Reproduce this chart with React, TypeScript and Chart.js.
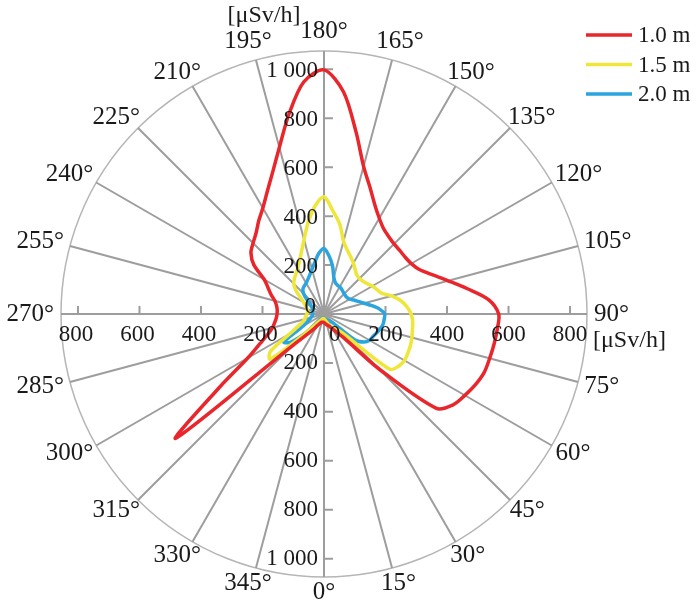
import { useEffect, useRef } from 'react'
import { Chart, registerables } from 'chart.js'

Chart.register(...registerables)

// radar directions, clockwise from the top: 180° up, 90° right, 0° down, 270° left
const directions = Array.from({ length: 72 }, (_, i) => (540 - 5 * i) % 360)

// dose rate [μSv/h] read at 0°, 5°, 10° ... 355°
const dose10m = [
    35, 38, 42, 46, 50, 58, 70, 92, 130, 315, 600, 646,
    665, 683, 697, 701, 706, 711, 714, 675, 595, 525, 470, 430,
    412, 405, 404, 405, 412, 425, 452, 492, 550, 625, 755, 912,
    998, 952, 828, 705, 615, 550, 500, 465, 432, 410, 390, 350,
    282, 252, 230, 208, 197, 192, 192, 196, 205, 218, 245, 290,
    360, 520, 790, 185, 110, 78, 55, 44, 38, 35, 34, 34,
]
const dose15m = [
    20, 22, 25, 30, 38, 48, 62, 72, 82, 118, 352, 372,
    380, 378, 376, 372, 367, 364, 356, 340, 318, 285, 250, 238,
    228, 216, 208, 205, 208, 222, 240, 258, 278, 308, 372, 422,
    479, 440, 378, 315, 270, 238, 215, 200, 188, 175, 150, 118,
    96, 84, 76, 71, 68, 68, 70, 73, 77, 83, 92, 115,
    160, 268, 288, 130, 62, 42, 32, 26, 22, 20, 20, 20,
]
const dose20m = [
    18, 20, 22, 24, 26, 28, 30, 33, 38, 48, 165, 200,
    215, 220, 228, 237, 245, 247, 248, 228, 198, 170, 150, 135,
    122, 116, 115, 117, 120, 125, 128, 130, 136, 155, 200, 238,
    268, 248, 215, 190, 170, 156, 146, 140, 134, 118, 90, 68,
    58, 53, 50, 48, 47, 46, 46, 47, 50, 55, 62, 75,
    98, 200, 180, 118, 62, 38, 28, 22, 20, 18, 18, 18,
]

const seriesLabels = ['1.0 m', '1.5 m', '2.0 m']
const seriesColors = ['#e8262b', '#efe63a', '#2aa5de']

const verticalTicks = [200, 400, 600, 800, 1000]
const horizontalTicks = [200, 400, 600, 800]
const unitLabel = '[μSv/h]'
const rMax = 1075

// the source figure labels its horizontal axis on a stretched scale
const hStretch = 1.257

const serif = "'Liberation Serif', 'Times New Roman', serif"
const gridGrey = '#9d9d9d'

const fmt = (v: number) => String(v).replace(/\B(?=(\d{3})+(?!\d))/g, ' ')
const byDirection = (values: number[]) => directions.map(d => values[d / 5])

const polarDecor = {
    id: 'polarDecor',
    beforeDatasetsDraw(chart: any) {
        const r = chart.scales.r
        const { ctx } = chart
        const cx = r.xCenter, cy = r.yCenter
        ctx.save()
        ctx.strokeStyle = gridGrey
        ctx.lineWidth = 2
        ctx.beginPath()
        verticalTicks.forEach(v => {
            const d = r.getDistanceFromCenterForValue(v)
            ctx.moveTo(cx, cy - d); ctx.lineTo(cx + 9, cy - d)
            ctx.moveTo(cx, cy + d); ctx.lineTo(cx + 9, cy + d)
        })
        horizontalTicks.forEach(v => {
            const d = r.getDistanceFromCenterForValue(v * hStretch)
            ctx.moveTo(cx - d, cy); ctx.lineTo(cx - d, cy - 8)
            ctx.moveTo(cx + d, cy); ctx.lineTo(cx + d, cy - 8)
        })
        ctx.stroke()
        ctx.restore()
    },
    afterDraw(chart: any) {
        const r = chart.scales.r
        const { ctx } = chart
        const cx = r.xCenter, cy = r.yCenter, R = r.drawingArea
        ctx.save()
        ctx.fillStyle = '#1a1a1a'

        // radial tick labels
        ctx.font = `23px ${serif}`
        ctx.textBaseline = 'middle'
        ctx.textAlign = 'right'
        verticalTicks.forEach(v => {
            const d = r.getDistanceFromCenterForValue(v)
            ctx.fillText(fmt(v), cx - 6, cy - d + 2)
            ctx.fillText(fmt(v), cx - 6, cy + d)
        })
        ctx.fillText('0', cx - 8, cy - 7)
        ctx.textAlign = 'left'
        ctx.fillText('0', cx + 5, cy + 21)
        ctx.textAlign = 'center'
        horizontalTicks.forEach(v => {
            const d = r.getDistanceFromCenterForValue(v * hStretch)
            ctx.fillText(fmt(v), cx - d - 2, cy + 21)
            ctx.fillText(fmt(v), cx + d, cy + 21)
        })

        // direction labels
        ctx.font = `25px ${serif}`
        const h = 25 * 0.68
        const off = R + 7
        directions.forEach((deg, i) => {
            if (deg % 15 !== 0) return
            const p = r.getPointPosition(i, off)
            const ux = (p.x - cx) / off, uy = (p.y - cy) / off
            const text = `${deg}°`
            const w = ctx.measureText(text).width
            ctx.fillText(text, p.x + ux * w / 2, p.y + uy * h / 2 + (uy < -0.9 ? -4 : 0))
        })

        // units
        ctx.font = `24px ${serif}`
        ctx.fillText(unitLabel, cx - 60, cy - R - 35)
        ctx.textAlign = 'left'
        ctx.fillText(unitLabel, cx + R + 6, cy + 27)

        // legend
        ctx.font = `23px ${serif}`
        chart.data.datasets.forEach((ds: any, i: number) => {
            const y = 35 + i * 29.5
            ctx.strokeStyle = ds.borderColor
            ctx.lineWidth = 3.5
            ctx.beginPath(); ctx.moveTo(586, y); ctx.lineTo(632, y); ctx.stroke()
            ctx.fillText(ds.label, 638, y + 1)
        })
        ctx.restore()
    },
}

export default function App() {
    const canvasRef = useRef<HTMLCanvasElement>(null)
    const chartRef = useRef<Chart | null>(null)

    useEffect(() => {
        if (!canvasRef.current) return
        if (chartRef.current) { chartRef.current.destroy(); chartRef.current = null }

        chartRef.current = new Chart(canvasRef.current, {
            type: 'radar',
            data: {
                labels: directions.map(d => `${d}°`),
                datasets: [dose10m, dose15m, dose20m].map((vals, i) => ({
                    label: seriesLabels[i],
                    data: byDirection(vals),
                    borderColor: seriesColors[i],
                    backgroundColor: seriesColors[i],
                    borderWidth: 3.5,
                    borderJoinStyle: 'round' as const,
                    pointRadius: 0,
                    pointHoverRadius: 0,
                    tension: 0.3,
                    fill: false,
                })),
            },
            options: {
                responsive: true,
                maintainAspectRatio: false,
                animation: false,
                layout: { padding: { left: 61, top: 51, right: 113, bottom: 31 } },
                plugins: {
                    legend: { display: false },
                    tooltip: { enabled: false },
                },
                scales: {
                    r: {
                        min: 0,
                        max: rMax,
                        ticks: { display: false, stepSize: 200 },
                        pointLabels: { display: false },
                        grid: {
                            circular: true,
                            lineWidth: 1.5,
                            color: (c: any) => (c.tick && c.tick.value >= rMax ? '#b5b5b5' : 'transparent'),
                        },
                        angleLines: {
                            color: gridGrey,
                            lineWidth: (c: any) => (directions[c.index] % 15 === 0 ? 2 : 0),
                        },
                    },
                },
            },
            plugins: [polarDecor],
        })

        return () => { chartRef.current?.destroy(); chartRef.current = null }
    }, [])

    return (
        <div style={{ position: 'fixed', left: 0, top: 0, width: 700, height: 608, background: '#fff' }}>
            <canvas ref={canvasRef} />
        </div>
    )
}
